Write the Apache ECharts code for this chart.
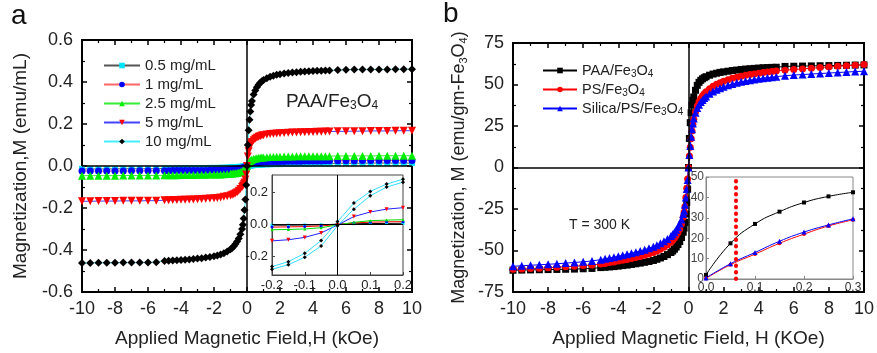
<!DOCTYPE html>
<html><head><meta charset="utf-8">
<script src="https://cdn.jsdelivr.net/npm/echarts@6/dist/echarts.min.js"></script>
<style>html,body{margin:0;padding:0;background:#fff}#c{width:877px;height:353px}</style>
</head><body><div id="c"></div>
<script>
// ---------- Panel a (main): applied field (kOe) ----------
const H = [-10,-9.5,-9,-8.5,-8,-7.5,-7,-6.5,-6,-5.5,
 -5,-4.75,-4.5,-4.25,-4,-3.75,-3.5,-3.25,-3,-2.75,-2.5,-2.25,-2,
 -1.8,-1.6,-1.4,-1.2,-1,
 -0.9,-0.8,-0.7,-0.6,-0.5,-0.4,-0.3,
 -0.25,-0.2,-0.15,-0.1,-0.05,
 0,
 0.05,0.1,0.15,0.2,0.25,
 0.3,0.4,0.5,0.6,0.7,0.8,0.9,
 1,1.2,1.4,1.6,1.8,
 2,2.25,2.5,2.75,3,3.25,3.5,3.75,4,4.25,4.5,4.75,5,
 5.5,6,6.5,7,7.5,8,8.5,9,9.5,10];

const M_05 = [-0.014,-0.014,-0.014,-0.014,-0.014,-0.013,-0.013,-0.013,-0.013,-0.013,
 -0.012,-0.012,-0.012,-0.011,-0.011,-0.011,-0.011,-0.01,-0.01,-0.01,-0.01,-0.009,-0.009,
 -0.009,-0.008,-0.008,-0.007,-0.007,
 -0.006,-0.006,-0.005,-0.005,-0.004,-0.004,-0.003,
 -0.003,-0.002,-0.002,-0.001,-0.001,
 0,
 0.001,0.002,0.002,0.003,0.003,
 0.004,0.004,0.005,0.005,0.006,0.006,0.007,
 0.007,0.008,0.008,0.009,0.009,
 0.009,0.01,0.01,0.01,0.01,0.011,0.011,0.011,0.011,0.012,0.012,0.012,0.012,
 0.013,0.013,0.013,0.013,0.014,0.014,0.014,0.014,0.014,0.014];

const M_1 = [-0.024,-0.024,-0.024,-0.024,-0.024,-0.024,-0.023,-0.023,-0.023,-0.023,
 -0.023,-0.023,-0.022,-0.022,-0.022,-0.022,-0.022,-0.021,-0.021,-0.021,-0.021,-0.02,-0.02,
 -0.02,-0.019,-0.019,-0.018,-0.017,
 -0.017,-0.016,-0.015,-0.014,-0.013,-0.012,-0.01,
 -0.009,-0.008,-0.006,-0.004,-0.002,
 0,
 0.004,0.007,0.009,0.011,0.012,
 0.013,0.015,0.016,0.017,0.018,0.018,0.019,
 0.019,0.02,0.021,0.021,0.022,
 0.022,0.022,0.023,0.023,0.023,0.023,0.024,0.024,0.024,0.024,0.024,0.025,0.025,
 0.025,0.025,0.025,0.026,0.026,0.026,0.026,0.026,0.026,0.026];

const M_25 = [-0.046,-0.046,-0.046,-0.046,-0.046,-0.045,-0.045,-0.045,-0.045,-0.045,
 -0.044,-0.044,-0.044,-0.044,-0.043,-0.043,-0.043,-0.043,-0.042,-0.042,-0.042,-0.041,-0.041,
 -0.04,-0.04,-0.039,-0.038,-0.037,
 -0.036,-0.035,-0.034,-0.033,-0.031,-0.029,-0.026,
 -0.024,-0.021,-0.018,-0.014,-0.008,
 0,
 0.01,0.016,0.021,0.025,0.028,
 0.03,0.033,0.035,0.037,0.038,0.039,0.04,
 0.041,0.042,0.043,0.043,0.044,
 0.044,0.045,0.045,0.045,0.046,0.046,0.046,0.046,0.047,0.047,0.047,0.047,0.047,
 0.048,0.048,0.048,0.048,0.048,0.049,0.049,0.049,0.049,0.049];

const M_5 = [-0.168,-0.168,-0.167,-0.167,-0.167,-0.166,-0.166,-0.166,-0.165,-0.165,
 -0.163,-0.163,-0.162,-0.162,-0.161,-0.161,-0.16,-0.159,-0.158,-0.157,-0.156,-0.155,-0.154,
 -0.152,-0.15,-0.147,-0.144,-0.14,
 -0.137,-0.134,-0.13,-0.125,-0.118,-0.11,-0.1,
 -0.094,-0.087,-0.078,-0.064,-0.04,
 0,
 0.045,0.07,0.088,0.1,0.108,
 0.114,0.123,0.13,0.135,0.139,0.142,0.145,
 0.147,0.15,0.152,0.154,0.155,
 0.156,0.157,0.158,0.159,0.16,0.161,0.161,0.162,0.162,0.163,0.163,0.164,0.164,
 0.165,0.165,0.166,0.166,0.167,0.167,0.167,0.168,0.168,0.168];

const M_10 = [-0.462,-0.462,-0.461,-0.461,-0.461,-0.46,-0.46,-0.46,-0.459,-0.458,
 -0.452,-0.451,-0.45,-0.449,-0.448,-0.446,-0.445,-0.443,-0.441,-0.439,-0.436,-0.433,-0.43,
 -0.426,-0.421,-0.415,-0.407,-0.397,
 -0.39,-0.382,-0.372,-0.36,-0.345,-0.325,-0.3,
 -0.28,-0.25,-0.21,-0.16,-0.09,
 0,
 0.1,0.17,0.22,0.26,0.29,
 0.31,0.34,0.36,0.375,0.387,0.396,0.403,
 0.409,0.418,0.425,0.43,0.434,
 0.437,0.44,0.443,0.445,0.447,0.449,0.45,0.451,0.452,0.453,0.454,0.455,0.455,
 0.457,0.458,0.459,0.459,0.46,0.46,0.46,0.461,0.461,0.461];

// ---------- Panel a (inset) ----------
const HI_A = [-0.2,-0.15,-0.1,-0.05,0,0.05,0.1,0.15,0.2];
const IA_10_UP = [-0.267,-0.236,-0.183,-0.103,0.017,0.133,0.206,0.253,0.284];
const IA_10_DN = [-0.284,-0.255,-0.208,-0.137,-0.01,0.095,0.179,0.234,0.265];
const IA_5  = [-0.105,-0.098,-0.083,-0.055,-0.005,0.048,0.077,0.095,0.104];
const IA_25 = [-0.035,-0.033,-0.03,-0.022,-0.005,0.012,0.022,0.026,0.028];
const IA_1  = [-0.018,-0.017,-0.015,-0.011,-0.002,0.008,0.013,0.015,0.016];
const IA_05 = [-0.006,-0.006,-0.005,-0.004,0,0.003,0.004,0.005,0.006];

// ---------- Panel b (main), same field grid H ----------
const B_PAA = [-61.9,-61.8,-61.7,-61.6,-61.5,-61.4,-61.3,-61.2,-61,-60.8,
 -60.3,-60.1,-59.9,-59.7,-59.4,-59.1,-58.8,-58.4,-58,-57.6,-57.1,-56.6,-56,
 -55.3,-54.5,-53.6,-52.5,-51.2,
 -50.3,-49.2,-47.9,-46.4,-44.6,-42.2,-39,
 -36.5,-33,-28,-21,-13,
 0,
 17.5,27,33,37.5,40.5,
 42.5,46.5,49.5,51.3,52.5,53.4,54.1,
 54.7,55.6,56.3,56.8,57.3,
 57.6,58,58.4,58.7,59,59.3,59.5,59.7,59.9,60.1,60.2,60.3,60.4,
 60.9,61,61.1,61.2,61.3,61.4,61.5,61.6,61.7,61.8];

const B_PS = [-61.3,-61.1,-60.9,-60.7,-60.4,-60.1,-59.8,-59.5,-59.1,-58.7,
 -58.2,-57.8,-57.3,-56.9,-56.4,-55.9,-55.4,-54.8,-54.2,-53.6,-52.9,-52.1,-51.2,
 -50.3,-49.3,-48.1,-46.7,-45,
 -43.9,-42.6,-41,-39.2,-37,-34,-30,
 -27,-23.5,-18,-12.5,-7,
 0,
 7,12.2,17.5,22,26,
 29,33.5,37,39.6,41.6,43.2,44.5,
 45.6,47.4,48.9,50.1,51.1,
 52,52.9,53.7,54.4,55,55.5,56,56.4,56.8,57.2,57.5,57.8,58.1,
 58.6,59,59.4,59.8,60.2,60.6,61,61.3,61.6,62];

const B_SIL = [-59.5,-59.2,-58.9,-58.6,-58.3,-58,-57.6,-57.2,-56.8,-56.3,
 -55.5,-55,-54.5,-54,-53.5,-52.9,-52.3,-51.7,-51,-50.3,-49.5,-48.6,-47.7,
 -46.8,-45.7,-44.5,-43,-41.3,
 -40.2,-39,-37.5,-35.8,-33.8,-31.3,-28,
 -26,-22.5,-18,-13,-7.5,
 0,
 7.5,13,18.5,23,26.5,
 29.5,33,35.8,37.8,39.4,40.7,41.8,
 42.8,44.5,45.8,46.9,47.8,
 48.6,49.5,50.3,51,51.6,52.1,52.6,53,53.4,53.8,54.1,54.4,54.7,
 55.3,55.7,56,56.3,56.6,56.9,57.2,57.5,57.8,58];

// ---------- Panel b (inset) ----------
const HI_B = [0,0.05,0.1,0.15,0.2,0.25,0.3];
const IB_PAA = [2,17.5,27,33,37.5,40.5,42.5];
const IB_PS  = [0.3,7,12.2,17.5,22,26,29];
const IB_SIL = [0.5,7.5,13,18.5,23,26.5,29.5];
const IB_MARK = 0.055;

// ---------- tick labels ----------
const A_X_TICKS = {min:-10, max:10, interval:2};
const A_Y_TICKS = {min:-0.6, max:0.6, interval:0.2};
const B_Y_TICKS = {min:-75, max:75, interval:25};
const IA_Y_LABELS = [-0.2, 0, 0.2];

const pairs = (xs, ys) => xs.map((x, i) => [x, ys[i]]);
const FONT = 'Liberation Sans, Arial, sans-serif';

function mainX(grid, pos, show, cfg, name) {
  return {
    gridIndex: grid, type: 'value', position: pos, min: cfg.min, max: cfg.max, interval: cfg.interval,
    axisLine: {show: true, onZero: false, lineStyle: {color: '#000', width: 2}},
    axisTick: {show: true, inside: true, length: 5, lineStyle: {color: '#000', width: 1.5}},
    minorTick: {show: true, splitNumber: 2, length: 3, lineStyle: {color: '#000', width: 1.2}},
    splitLine: {show: false},
    axisLabel: {show: show, fontSize: 18, color: '#222', fontFamily: FONT, margin: 8},
    name: name || '', nameLocation: 'middle', nameGap: 37,
    nameTextStyle: {fontSize: 19, color: '#222', fontFamily: FONT}
  };
}
function mainY(grid, pos, show, cfg, fmt, name, gap, rich, nameSize) {
  return {
    gridIndex: grid, type: 'value', position: pos, min: cfg.min, max: cfg.max, interval: cfg.interval,
    axisLine: {show: true, onZero: false, lineStyle: {color: '#000', width: 2}},
    axisTick: {show: true, inside: true, length: 5, lineStyle: {color: '#000', width: 1.5}},
    minorTick: {show: true, splitNumber: 2, length: 3, lineStyle: {color: '#000', width: 1.2}},
    splitLine: {show: false},
    axisLabel: {show: show, fontSize: 18, color: '#222', fontFamily: FONT, margin: 9, formatter: fmt},
    name: name || '', nameLocation: 'middle', nameGap: gap || 50, nameRotate: 90,
    nameTextStyle: {fontSize: nameSize || 19, color: '#222', fontFamily: FONT, rich: rich}
  };
}

const subRich = {
  n: {fontSize: 19, color: '#222', fontFamily: FONT, verticalAlign: 'middle'},
  s: {fontSize: 12, color: '#222', fontFamily: FONT, verticalAlign: 'middle', padding: [9, 0, 0, 0]}
};
const axRich = {
  n: {fontSize: 18, color: '#222', fontFamily: FONT, verticalAlign: 'middle'},
  s: {fontSize: 11, color: '#222', fontFamily: FONT, verticalAlign: 'middle', padding: [9, 0, 0, 0]}
};
const legRich = {
  n: {fontSize: 14.5, color: '#222', fontFamily: FONT, verticalAlign: 'middle'},
  s: {fontSize: 10, color: '#222', fontFamily: FONT, verticalAlign: 'middle', padding: [7, 0, 0, 0]}
};

function mainSeries(name, xi, yi, data, sym, size, lineColor, markColor, rot) {
  return {
    name: name, type: 'line', xAxisIndex: xi, yAxisIndex: yi, data: data,
    symbol: sym, symbolSize: size, symbolRotate: rot || 0, showSymbol: true,
    lineStyle: {color: lineColor, width: 1},
    itemStyle: {color: markColor, borderWidth: 0},
    animation: false, silent: true
  };
}
const zeroLines = (color, w) => ({
  silent: true, symbol: 'none', animation: false, label: {show: false},
  lineStyle: {color: color, width: w, type: 'solid'},
  data: [{xAxis: 0}, {yAxis: 0}]
});

const series = [
  // panel a main
  Object.assign(mainSeries('0.5 mg/mL', 0, 0, pairs(H, M_05), 'rect', 6, '#555', '#00e5ff'), {markLine: zeroLines('#000', 1.5)}),
  mainSeries('1 mg/mL', 0, 0, pairs(H, M_1), 'circle', 7, '#ff6666', '#0000ff'),
  mainSeries('2.5 mg/mL', 0, 0, pairs(H, M_25), 'triangle', 8, '#33ee33', '#00ee00'),
  mainSeries('5 mg/mL', 0, 0, pairs(H, M_5), 'triangle', 8, '#4444ff', '#ff0000', 180),
  mainSeries('10 mg/mL', 0, 0, pairs(H, M_10), 'diamond', 8, '#44eeff', '#000'),
  // panel a inset
  Object.assign(mainSeries('ia05', 2, 2, pairs(HI_A, IA_05), 'rect', 3, '#000', '#00e5ff'), {markLine: zeroLines('#000', 1)}),
  mainSeries('ia1', 2, 2, pairs(HI_A, IA_1), 'circle', 3, '#ff0000', '#0000ff'),
  mainSeries('ia25', 2, 2, pairs(HI_A, IA_25), 'triangle', 3, '#00dd00', '#00dd00'),
  mainSeries('ia5', 2, 2, pairs(HI_A, IA_5), 'triangle', 4, '#2222ff', '#ff0000', 180),
  mainSeries('ia10u', 2, 2, pairs(HI_A, IA_10_UP), 'diamond', 4, '#33ddff', '#000'),
  mainSeries('ia10d', 2, 2, pairs(HI_A, IA_10_DN), 'diamond', 4, '#33ddff', '#000'),
  // panel b main
  Object.assign(mainSeries('PAA/Fe3O4', 3, 3, pairs(H, B_PAA), 'rect', 7, '#000', '#000'), {markLine: zeroLines('#000', 1.5)}),
  mainSeries('PS/Fe3O4', 3, 3, pairs(H, B_PS), 'circle', 7, '#ff0000', '#ff0000'),
  mainSeries('Silica/PS/Fe3O4', 3, 3, pairs(H, B_SIL), 'triangle', 8, '#0000ff', '#0000ff'),
  // panel b inset
  Object.assign(Object.assign(mainSeries('ibpaa', 5, 5, pairs(HI_B, IB_PAA), 'rect', 4, '#000', '#000'), {smooth: true}), {
    markLine: {silent: true, symbol: 'none', animation: false, label: {show: false},
      lineStyle: {color: '#ff0000', width: 4, type: [0.5, 6], cap: 'round'},
      data: [{xAxis: IB_MARK}]}
  }),
  Object.assign(mainSeries('ibps', 5, 5, pairs(HI_B, IB_PS), 'circle', 4, '#ff0000', '#ff0000'), {smooth: true}),
  Object.assign(mainSeries('ibsil', 5, 5, pairs(HI_B, IB_SIL), 'triangle', 5, '#0000ff', '#0000ff'), {smooth: true})
];

const option = {
  backgroundColor: '#fff',
  animation: false,
  grid: [
    {left: 82, top: 40, width: 330, height: 257, show: true, borderColor: '#000', borderWidth: 2, backgroundColor: 'transparent'},
    {left: 272, top: 175, width: 131, height: 100, show: true, borderColor: '#444', borderWidth: 1, backgroundColor: '#fff'},
    {left: 513, top: 43, width: 357, height: 254, show: true, borderColor: '#000', borderWidth: 2, backgroundColor: 'transparent'},
    {left: 706, top: 177, width: 147, height: 102, show: true, borderColor: '#888', borderWidth: 1, backgroundColor: '#fff'}
  ],
  xAxis: [
    mainX(0, 'bottom', true, A_X_TICKS, 'Applied Magnetic Field,H (kOe)'),
    mainX(0, 'top', false, A_X_TICKS),
    {gridIndex: 1, type: 'value', min: -0.2, max: 0.2, interval: 0.1,
      axisLine: {show: true, onZero: false, lineStyle: {color: '#444', width: 1}},
      axisTick: {show: true, inside: true, length: 3, lineStyle: {color: '#444'}},
      splitLine: {show: false},
      axisLabel: {fontSize: 13, color: '#222', fontFamily: FONT, margin: 4, formatter: v => v.toFixed(1)}},
    mainX(2, 'bottom', true, A_X_TICKS, 'Applied Magnetic Field, H (KOe)'),
    mainX(2, 'top', false, A_X_TICKS),
    {gridIndex: 3, type: 'value', min: 0, max: 0.3, interval: 0.1,
      axisLine: {show: true, onZero: false, lineStyle: {color: '#888', width: 1}},
      axisTick: {show: true, inside: true, length: 3, lineStyle: {color: '#888'}},
      splitLine: {show: false},
      axisLabel: {fontSize: 12, color: '#333', fontFamily: FONT, margin: 3, formatter: v => v.toFixed(1)}}
  ],
  yAxis: [
    mainY(0, 'left', true, A_Y_TICKS, v => v.toFixed(1), 'Magnetization,M (emu/mL)', 52),
    mainY(0, 'right', false, A_Y_TICKS),
    {gridIndex: 1, type: 'value', min: -0.32, max: 0.31,
      axisLine: {show: true, onZero: false, lineStyle: {color: '#444', width: 1}},
      axisTick: {show: true, inside: true, length: 3, customValues: IA_Y_LABELS, lineStyle: {color: '#444'}},
      splitLine: {show: false},
      axisLabel: {fontSize: 13, color: '#222', fontFamily: FONT, margin: 4, customValues: IA_Y_LABELS, formatter: v => v.toFixed(1)}},
    mainY(2, 'left', true, B_Y_TICKS, v => String(v), '{n|Magnetization, M (emu/gm-Fe}{s|3}{n|O}{s|4}{n|)}', 44, axRich, 18),
    mainY(2, 'right', false, B_Y_TICKS),
    {gridIndex: 3, type: 'value', min: 0, max: 50, interval: 10,
      axisLine: {show: true, onZero: false, lineStyle: {color: '#888', width: 1}},
      axisTick: {show: true, inside: true, length: 3, lineStyle: {color: '#888'}},
      splitLine: {show: false},
      axisLabel: {fontSize: 12, color: '#444', fontFamily: FONT, margin: 2}}
  ],
  legend: [
    {data: ['0.5 mg/mL', '1 mg/mL', '2.5 mg/mL', '5 mg/mL', '10 mg/mL'],
      orient: 'vertical', left: 98, top: 53, itemWidth: 36, itemHeight: 7, itemGap: 4,
      selectedMode: false,
      textStyle: {fontSize: 15, color: '#222', fontFamily: FONT, lineHeight: 15}},
    {data: ['PAA/Fe3O4', 'PS/Fe3O4', 'Silica/PS/Fe3O4'],
      orient: 'vertical', left: 537, top: 58, itemWidth: 34, itemHeight: 7, itemGap: 3,
      selectedMode: false,
      formatter: n => '{n|' + n.replace('Fe3O4', 'Fe}{s|3}{n|O}{s|4}'),
      textStyle: {fontSize: 14.5, color: '#222', fontFamily: FONT, rich: legRich}}
  ],
  graphic: [
    {type: 'text', left: 11, top: 2, style: {text: 'a', fontSize: 28, fill: '#111', fontFamily: FONT}},
    {type: 'text', left: 443, top: 0, style: {text: 'b', fontSize: 28, fill: '#111', fontFamily: FONT}},
    {type: 'text', left: 286, top: 92, style: {text: '{n|PAA/Fe}{s|3}{n|O}{s|4}', rich: subRich, fill: '#222'}},
    {type: 'text', left: 569, top: 218, style: {text: 'T = 300 K', fontSize: 14, fill: '#222', fontFamily: FONT}}
  ],
  series: series
};

const chart = echarts.init(document.getElementById('c'), null, {renderer: 'canvas'});
chart.setOption(option);
</script>
</body></html>
